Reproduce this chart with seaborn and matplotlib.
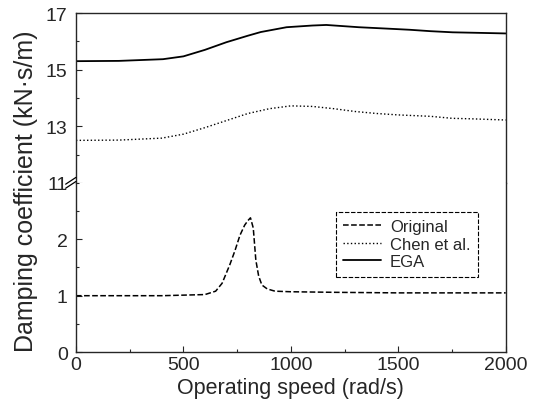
import numpy as np
import pandas as pd
import seaborn as sns
import matplotlib.pyplot as plt
from matplotlib.ticker import MultipleLocator

# data
speed_ega = [0, 200, 405, 500, 600, 700, 800, 860, 980, 1100, 1165, 1316, 1450, 1553, 1650, 1753, 1880, 2000]
ega = [15.30, 15.31, 15.37, 15.47, 15.70, 15.97, 16.20, 16.33, 16.50, 16.56, 16.58, 16.50, 16.45, 16.41, 16.36, 16.32, 16.30, 16.28]

speed_chen = [0, 200, 400, 500, 600, 700, 800, 900, 1000, 1100, 1200, 1300, 1400, 1500, 1650, 1750, 1850, 2000]
chen = [12.50, 12.51, 12.58, 12.72, 12.95, 13.20, 13.45, 13.62, 13.72, 13.70, 13.62, 13.52, 13.45, 13.40, 13.35, 13.28, 13.26, 13.22]

speed_orig = [0, 200, 400, 600, 650, 680, 716, 740, 763, 785, 800, 812, 825, 837, 850, 865, 890, 926, 1000, 1200, 1500, 1800, 2000]
original = [1.00, 1.00, 1.00, 1.02, 1.08, 1.22, 1.55, 1.80, 2.07, 2.25, 2.33, 2.38, 2.20, 1.63, 1.35, 1.19, 1.12, 1.08, 1.07, 1.06, 1.05, 1.05, 1.05]

upper_ticks = [11, 13, 15, 17]
lower_ticks = [0, 1, 2]

sns.set_style("ticks")
plt.rcParams['font.family'] = ['Liberation Sans', 'DejaVu Sans']
plt.rcParams['font.size'] = 14

fig = plt.figure(figsize=(5.45, 4.14), dpi=100)
ax_top = fig.add_axes([0.1394, 0.556, 0.7886, 0.41])
ax_bot = fig.add_axes([0.1394, 0.147, 0.7886, 0.409], sharex=ax_top)

df_ega = pd.DataFrame({'speed': speed_ega, 'value': ega})
df_chen = pd.DataFrame({'speed': speed_chen, 'value': chen})
df_orig = pd.DataFrame({'speed': speed_orig, 'value': original})

sns.lineplot(data=df_ega, x='speed', y='value', ax=ax_top, color='black', lw=1.3)
sns.lineplot(data=df_chen, x='speed', y='value', ax=ax_top, color='black', lw=1.0, ls=':')
sns.lineplot(data=df_orig, x='speed', y='value', ax=ax_bot, color='black', lw=1.1, ls='--')

# legend handles in lower panel
ax_bot.plot([], [], color='black', lw=1.1, ls='--', label='Original')
ax_bot.plot([], [], color='black', lw=1.0, ls=':', label='Chen et al.')
ax_bot.plot([], [], color='black', lw=1.3, label='EGA')
leg = ax_bot.legend(loc='upper right', bbox_to_anchor=(0.935, 0.83), borderaxespad=0,
                    frameon=True, fancybox=False, edgecolor='black', framealpha=1,
                    fontsize=12, handlelength=2.3, borderpad=0.45, labelspacing=0.15,
                    handletextpad=0.5)
leg.get_frame().set_linewidth(0.8)
leg.get_frame().set_linestyle((0, (4, 1.5)))

ax_top.set_ylim(11, 17)
ax_bot.set_ylim(0, 3)
ax_bot.set_xlim(0, 2000)

ax_top.set_yticks(upper_ticks)
ax_top.yaxis.set_minor_locator(MultipleLocator(1))
ax_bot.set_yticks(lower_ticks)
ax_bot.yaxis.set_minor_locator(MultipleLocator(0.5))
ax_bot.xaxis.set_major_locator(MultipleLocator(500))
ax_bot.xaxis.set_minor_locator(MultipleLocator(250))

for ax in (ax_top, ax_bot):
    ax.tick_params(which='both', direction='in', right=False, top=False, labelsize=14)
    ax.tick_params(axis='y', which='major', pad=6)
    ax.tick_params(axis='x', which='major', pad=3)
    ax.tick_params(which='major', length=4, width=0.8)
    ax.tick_params(which='minor', length=2.5, width=0.8)
    for s in ax.spines.values():
        s.set_linewidth(1.0)
    ax.set_xlabel('')
    ax.set_ylabel('')

ax_top.spines['bottom'].set_visible(False)
ax_bot.spines['top'].set_visible(False)
ax_top.tick_params(axis='x', which='both', bottom=False, labelbottom=False)

ax_bot.set_xlabel('Operating speed (rad/s)', fontsize=15.5, labelpad=3)
fig.text(0.048, 0.537, 'Damping coefficient (kN·s/m)', rotation=90, ha='center', va='center', fontsize=18)

# break marks on the left spine
for dy in (-0.012, 0.012):
    ax_bot.plot([-0.024, 0.0], [1.0 + dy - 0.02, 1.0 + dy + 0.02], transform=ax_bot.transAxes,
                color='black', lw=0.9, clip_on=False)

fig.savefig('out.png', dpi=100)
